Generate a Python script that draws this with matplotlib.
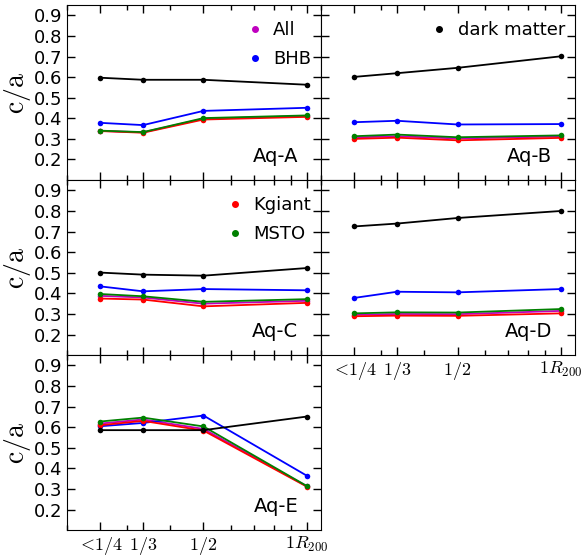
import numpy as np
import matplotlib
matplotlib.use("Agg")
import matplotlib.pyplot as plt
from matplotlib.ticker import NullFormatter, LogLocator, FixedLocator

plt.rcParams['mathtext.fontset'] = 'cm'

radius = [0.25, 1.0 / 3, 0.5, 1.0]
radius_labels = [r'$<\!1/4$', r'$1/3$', r'$1/2$', r'$1R_{200}$']
halos = ['Aq-A', 'Aq-B', 'Aq-C', 'Aq-D', 'Aq-E']

# c/a per halo, per tracer
dark_matter = {'Aq-A': [0.597, 0.587, 0.587, 0.563],
               'Aq-B': [0.601, 0.619, 0.645, 0.701],
               'Aq-C': [0.501, 0.491, 0.486, 0.523],
               'Aq-D': [0.725, 0.739, 0.766, 0.800],
               'Aq-E': [0.586, 0.586, 0.586, 0.652]}
bhb = {'Aq-A': [0.378, 0.367, 0.436, 0.451],
       'Aq-B': [0.381, 0.388, 0.370, 0.372],
       'Aq-C': [0.434, 0.410, 0.421, 0.415],
       'Aq-D': [0.378, 0.408, 0.405, 0.421],
       'Aq-E': [0.605, 0.621, 0.657, 0.365]}
msto = {'Aq-A': [0.340, 0.333, 0.401, 0.414],
        'Aq-B': [0.313, 0.321, 0.308, 0.317],
        'Aq-C': [0.397, 0.386, 0.359, 0.372],
        'Aq-D': [0.303, 0.308, 0.307, 0.324],
        'Aq-E': [0.628, 0.647, 0.604, 0.315]}
kgiant = {'Aq-A': [0.338, 0.330, 0.394, 0.407],
          'Aq-B': [0.300, 0.306, 0.293, 0.305],
          'Aq-C': [0.375, 0.370, 0.337, 0.354],
          'Aq-D': [0.289, 0.292, 0.291, 0.303],
          'Aq-E': [0.610, 0.631, 0.584, 0.312]}
all_stars = {'Aq-A': [0.339, 0.332, 0.398, 0.411],
             'Aq-B': [0.307, 0.313, 0.302, 0.312],
             'Aq-C': [0.388, 0.380, 0.350, 0.364],
             'Aq-D': [0.296, 0.300, 0.299, 0.315],
             'Aq-E': [0.618, 0.638, 0.592, 0.314]}

series = [('All', all_stars, 'm'), ('BHB', bhb, 'b'), ('Kgiant', kgiant, 'r'),
          ('MSTO', msto, 'g'), ('dark matter', dark_matter, 'k')]

fig, axes = plt.subplots(3, 2, sharex=True, sharey=True, figsize=(5.82, 5.57), dpi=100)
fig.subplots_adjust(left=0.115, right=0.988, top=0.991, bottom=0.048, hspace=0, wspace=0)
axes[2, 1].remove()

legend_groups = {'Aq-A': ['All', 'BHB'], 'Aq-B': ['dark matter'], 'Aq-C': ['Kgiant', 'MSTO']}

for ax, halo in zip(axes.flat, halos):
    handles = {}
    for name, d, c in series:
        h, = ax.plot(radius, d[halo], '-', color=c, lw=1.3, marker='o', ms=4,
                     markeredgewidth=0, label=name)
        handles[name] = h
    ax.set_xscale('log')
    ax.set_xlim(0.2, 1.1)
    ax.set_ylim(0.1, 0.95)
    ax.xaxis.set_major_locator(FixedLocator(radius))
    ax.set_xticklabels(radius_labels, fontsize=13)
    ax.xaxis.set_minor_locator(LogLocator(subs=np.arange(2, 10)))
    ax.xaxis.set_minor_formatter(NullFormatter())
    ax.set_yticks(np.arange(0.2, 0.91, 0.1))
    ax.tick_params(direction='in', top=True, right=True, labelsize=13, length=6, width=1)
    ax.tick_params(which='minor', direction='in', top=True, length=3.5, width=1)
    ax.text(0.91, 0.08, halo, transform=ax.transAxes, ha='right', va='bottom', fontsize=14)
    if halo in legend_groups:
        hs = [handles[n] for n in legend_groups[halo]]
        lines = [plt.Line2D([], [], ls='none', marker='o', ms=4, color=h.get_color())
                 for h in hs]
        ax.legend(lines, legend_groups[halo], loc='upper right', frameon=False,
                  bbox_to_anchor=(1.01, 0.98),
                  fontsize=13, handlelength=0.8, handletextpad=0.6, labelspacing=0.6,
                  borderaxespad=0.3)

for ax in axes[:, 0]:
    ax.set_ylabel(r'$\mathrm{c/a}$', fontsize=20)
    ax.yaxis.set_label_coords(-0.135, 0.5)

axes[1, 1].xaxis.set_tick_params(labelbottom=True)

fig.savefig('out.png', dpi=100)
